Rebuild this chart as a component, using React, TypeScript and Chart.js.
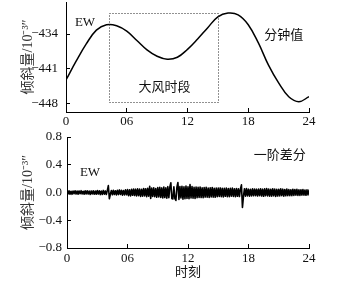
import React, { useEffect, useRef } from "react";
import { Chart, registerables } from "chart.js";

Chart.register(...registerables);

const FONT = "'Liberation Serif', 'Times New Roman', 'Noto Sans CJK SC', serif";

// ---- data ----
const hours = [0, 1, 2, 3, 4, 5, 6, 7, 8, 9, 10, 11, 12, 13, 14, 15, 16, 17, 18, 19, 20, 21, 22, 23, 24];
const minuteValues = [
  -443.3, -439.5, -436.0, -433.2, -432.1, -432.3, -433.4, -435.3, -437.2, -438.5,
  -439.1, -438.7, -437.1, -435.0, -432.7, -430.5, -429.75, -430.1, -432.1, -435.8,
  -440.3, -443.9, -446.7, -447.7, -446.7,
];
const xTicks = [0, 6, 12, 18, 24];
const xTickLabels = ["0", "06", "12", "18", "24"];
const topYTicks = [-434, -441, -448];
const topYTickLabels = ["\u2212434", "\u2212441", "\u2212448"];
const bottomYTicks = [0.8, 0.4, 0, -0.4, -0.8];
const bottomYTickLabels = ["0.8", "0.4", "0.0", "\u22120.4", "\u22120.8"];
const windBox = [4.25, 15.05, -447.8, -429.8]; // start h, end h, low, high
// first-order difference, one value every 0.1 h
const diffValues = [
  0.023, -0.021, 0.025, -0.024, 0.017, -0.026, 0.022, -0.018, 0.024, -0.023,
  0.021, -0.025, 0.023, -0.017, 0.026, -0.022, 0.018, -0.024, 0.025, -0.021,
  0.024, -0.023, 0.020, -0.028, 0.023, -0.021, 0.026, -0.024, 0.021, -0.025,
  0.029, -0.023, 0.026, -0.031, 0.022, -0.028, 0.030, -0.024, 0.023, -0.029,
  0.031, 0.100, -0.090, -0.025, 0.028, -0.032, 0.033, -0.029, 0.026, -0.035,
  0.033, -0.030, 0.037, -0.028, 0.032, -0.038, 0.029, -0.035, 0.039, -0.032,
  0.041, -0.045, 0.038, -0.049, 0.046, -0.040, 0.051, -0.044, 0.048, -0.050,
  0.053, -0.046, 0.050, -0.056, 0.045, -0.053, 0.058, -0.049, 0.055, -0.059,
  0.060, -0.054, 0.090, -0.085, 0.063, -0.058, 0.068, -0.061, 0.056, -0.069,
  0.071, -0.065, 0.076, -0.070, 0.066, -0.078, 0.080, -0.073, 0.069, -0.081,
  0.084, -0.075, 0.079, 0.140, -0.088, -0.094, 0.083, -0.089, -0.115, 0.078,
  0.145, -0.100, 0.086, -0.080, 0.090, -0.095, 0.081, -0.088, 0.093, -0.084,
  0.083, -0.090, 0.115, -0.079, 0.086, -0.081, 0.076, -0.085, 0.080, -0.075,
  0.074, -0.070, 0.078, -0.073, 0.068, -0.076, 0.071, -0.066, 0.075, -0.069,
  0.065, -0.071, 0.069, -0.063, 0.073, -0.066, 0.061, -0.069, 0.064, -0.060,
  0.063, -0.058, 0.066, -0.061, 0.059, -0.065, 0.060, -0.055, 0.064, -0.059,
  0.056, -0.061, 0.059, -0.054, 0.063, -0.056, 0.053, -0.060, 0.058, -0.055,
  0.054, -0.058, 0.051, 0.110, -0.215, -0.055, 0.055, -0.053, 0.056, -0.050,
  0.048, -0.052, 0.046, -0.049, 0.053, -0.047, 0.051, -0.045, 0.048, -0.051,
  0.049, -0.046, 0.054, -0.051, 0.048, -0.055, 0.052, -0.047, 0.056, -0.049,
  0.051, -0.054, 0.047, -0.052, 0.055, -0.048, 0.049, -0.056, 0.046, -0.051,
  0.047, -0.049, 0.052, -0.045, 0.048, -0.053, 0.044, -0.047, 0.051, -0.046,
  0.043, -0.046, 0.040, -0.045, 0.047, -0.041, 0.044, -0.039, 0.046, -0.043,
  0.038, -0.041, 0.040, -0.037, 0.043, -0.039, 0.036, -0.040, 0.038, -0.035,
  0.034,
];

const TEXT = "#111";

type Note = { text: string; x: number; y: number; size: number; family?: string };

const notesPlugin = {
  id: "notes",
  afterDatasetsDraw(chart: any, _args: any, opts: any) {
    const { ctx, scales } = chart;
    const xs = scales.x;
    const ys = scales.y;
    ctx.save();
    if (opts.box) {
      const [x0, x1, lo, hi] = opts.box;
      const px0 = Math.round(xs.getPixelForValue(x0)) + 0.5;
      const px1 = Math.round(xs.getPixelForValue(x1)) + 0.5;
      const py0 = Math.round(ys.getPixelForValue(hi)) + 0.5;
      const py1 = Math.round(ys.getPixelForValue(lo)) + 0.5;
      ctx.strokeStyle = "#222";
      ctx.lineWidth = 1;
      ctx.setLineDash([1, 2]);
      ctx.strokeRect(px0, py0, px1 - px0, py1 - py0);
      ctx.setLineDash([]);
    }
    (opts.notes || []).forEach((n: Note) => {
      ctx.font = `${n.size}px ${n.family || FONT}`;
      ctx.fillStyle = TEXT;
      ctx.textAlign = "center";
      ctx.textBaseline = "middle";
      ctx.fillText(n.text, xs.getPixelForValue(n.x), ys.getPixelForValue(n.y));
    });
    ctx.restore();
  },
};

function xScale(height: number, pad: number, title?: any) {
  return {
    type: "linear",
    min: 0,
    max: 24,
    afterBuildTicks: (s: any) => {
      s.ticks = xTicks.map((v) => ({ value: v }));
    },
    afterFit: (s: any) => {
      s.height = height;
      s.paddingLeft = 0;
      s.paddingRight = 0;
    },
    ticks: {
      autoSkip: false,
      maxRotation: 0,
      padding: pad,
      color: TEXT,
      font: { family: FONT, size: 13 },
      callback: (_v: any, i: number) => xTickLabels[i],
    },
    grid: { drawOnChartArea: false, drawTicks: true, tickLength: -4, color: "#000", lineWidth: 1 },
    border: { display: true, color: "#000", width: 1 },
    title: title || { display: false },
  };
}

function yScale(ticks: number[], labels: string[], width: number, min: number, max: number, pad: number) {
  return {
    type: "linear",
    min,
    max,
    afterBuildTicks: (s: any) => {
      s.ticks = ticks.map((v) => ({ value: v }));
    },
    afterFit: (s: any) => {
      s.width = width;
      s.paddingTop = 0;
      s.paddingBottom = 0;
    },
    ticks: {
      autoSkip: false,
      padding: pad,
      color: TEXT,
      font: { family: FONT, size: 13 },
      callback: (_v: any, i: number) => labels[i],
    },
    grid: { drawOnChartArea: false, drawTicks: true, tickLength: -4, color: "#000", lineWidth: 1 },
    border: { display: true, color: "#000", width: 1 },
    title: {
      display: true,
      text: "倾斜量/10\u207B\u00B3\u2033",
      color: "#333",
      font: { family: FONT, size: 14 },
      padding: { top: 20, bottom: 0 },
    },
  };
}

function Panel({ top, height, config }: { top: number; height: number; config: any }) {
  const ref = useRef<HTMLCanvasElement | null>(null);
  useEffect(() => {
    if (!ref.current) return;
    const chart = new Chart(ref.current, config);
    return () => chart.destroy();
  }, []);
  return (
    <canvas
      ref={ref}
      width={354}
      height={height}
      style={{ position: "absolute", left: 0, top, width: 354, height, display: "block" }}
    />
  );
}

const topConfig = {
  type: "line",
  data: {
    datasets: [
      {
        data: hours.map((h, i) => ({ x: h, y: minuteValues[i] })),
        borderColor: "#000",
        borderWidth: 1.5,
        pointRadius: 0,
        tension: 0.4,
        fill: false,
      },
    ],
  },
  options: {
    animation: false,
    responsive: false,
    devicePixelRatio: 1,
    layout: { padding: { left: 0, right: 45, top: 2, bottom: 0 } },
    plugins: {
      legend: { display: false },
      tooltip: { enabled: false },
      notes: {
        box: windBox,
        notes: [
          { text: "EW", x: 1.88, y: -431.6, size: 13 },
          { text: "分钟值", x: 21.5, y: -434.4, size: 13 },
          { text: "大风时段", x: 9.73, y: -444.85, size: 13 },
        ],
      },
    },
    scales: {
      x: xScale(18, 6),
      y: yScale(topYTicks, topYTickLabels, 66, -449.8, -427.5, 12),
    },
  },
  plugins: [notesPlugin],
};

const bottomConfig = {
  type: "line",
  data: {
    datasets: [
      {
        data: diffValues.map((v, i) => ({ x: i / 10, y: v })),
        borderColor: "#000",
        borderWidth: 1.6,
        borderJoinStyle: "round",
        borderCapStyle: "round",
        pointRadius: 0,
        tension: 0,
        fill: false,
      },
    ],
  },
  options: {
    animation: false,
    responsive: false,
    devicePixelRatio: 1,
    layout: { padding: { left: 0, right: 45, top: 8, bottom: 0 } },
    plugins: {
      legend: { display: false },
      tooltip: { enabled: false },
      notes: {
        notes: [
          { text: "EW", x: 2.28, y: 0.288, size: 13 },
          { text: "一阶差分", x: 21.1, y: 0.532, size: 13 },
        ],
      },
    },
    scales: {
      x: xScale(38, 7, {
        display: true,
        text: "时刻",
        color: TEXT,
        font: { family: FONT, size: 13 },
        padding: { top: 0, bottom: 6 },
      }),
      y: yScale(bottomYTicks, bottomYTickLabels, 67, -0.8, 0.8, 9),
    },
  },
  plugins: [notesPlugin],
};

export default function App() {
  return (
    <div style={{ position: "absolute", left: 0, top: 0, width: 354, height: 286, background: "#fff" }}>
      <Panel top={0} height={130} config={topConfig} />
      <Panel top={129} height={157} config={bottomConfig} />
    </div>
  );
}
